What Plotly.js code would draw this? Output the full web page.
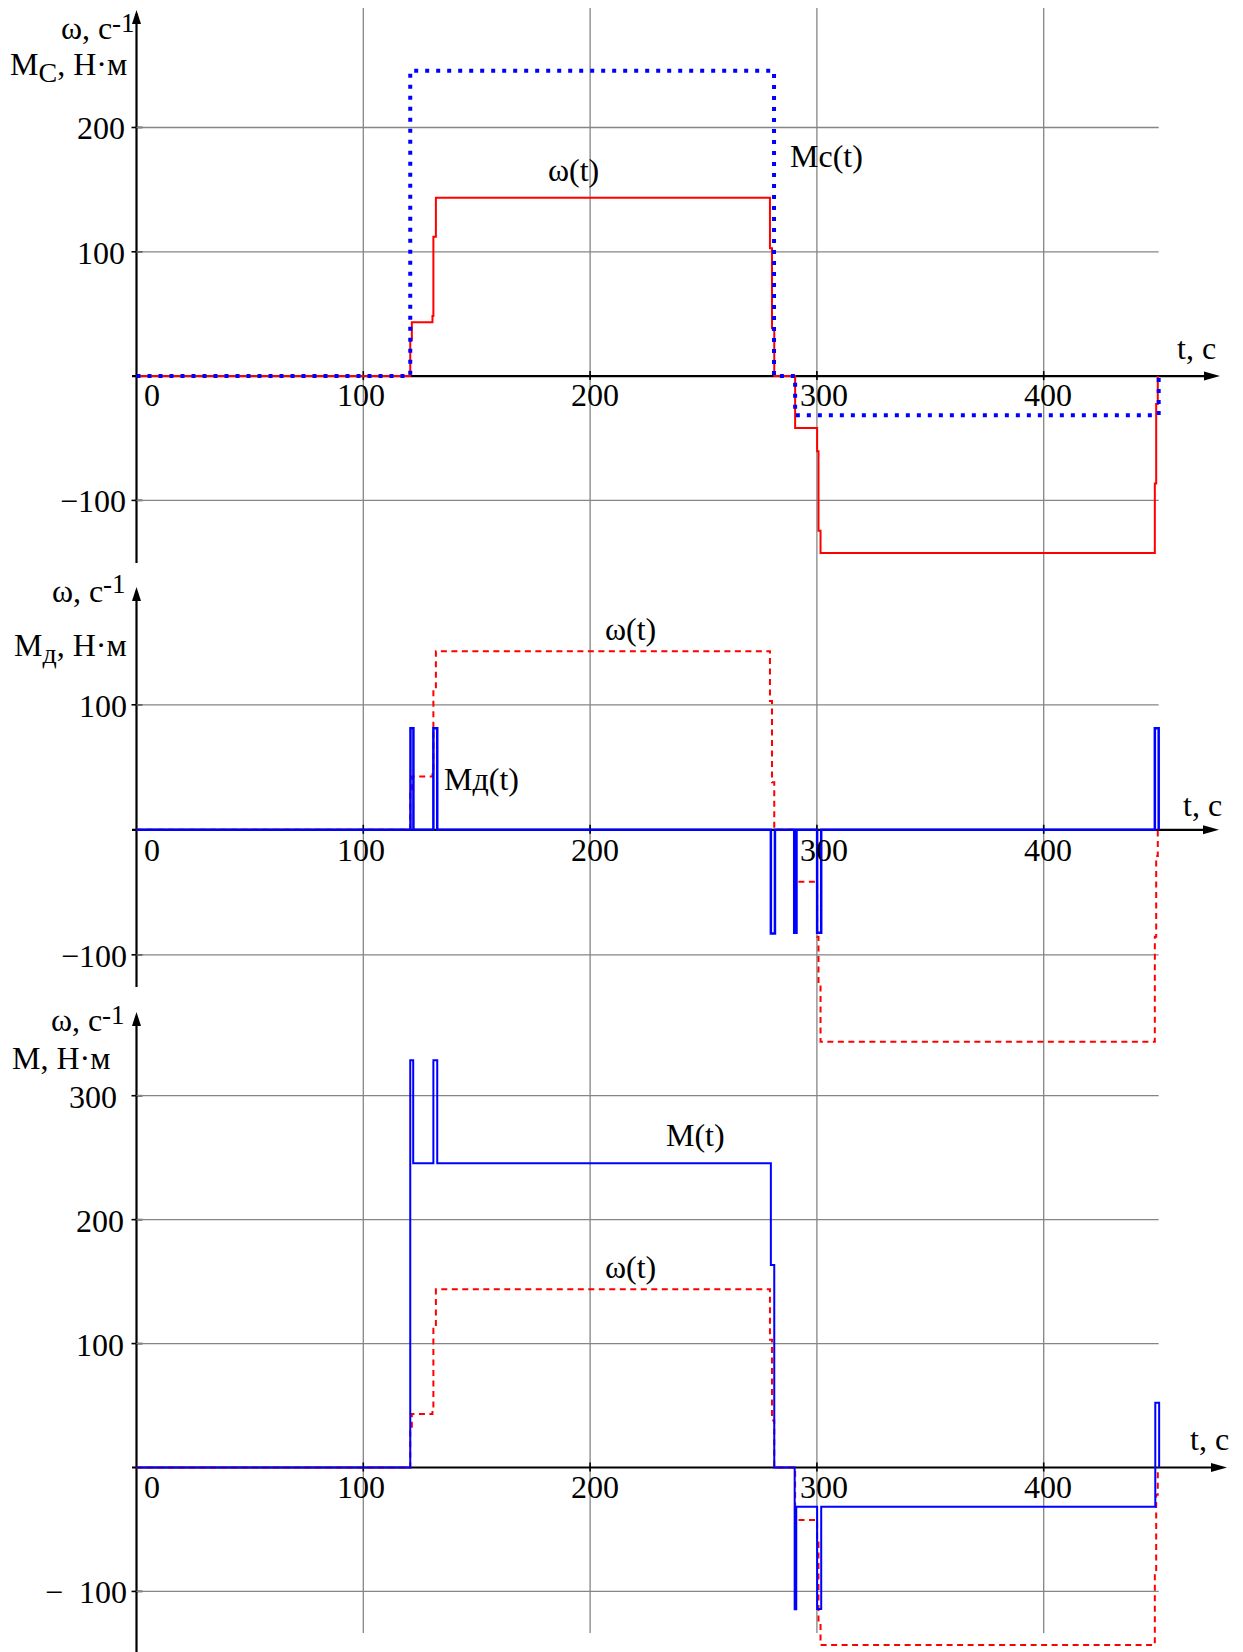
<!DOCTYPE html>
<html>
<head>
<meta charset="utf-8">
<script src="https://cdn.plot.ly/plotly-3.0.1.min.js"></script>
<style>
html,body{margin:0;padding:0;background:#ffffff;}
#chart{width:1243px;height:1652px;}
</style>
</head>
<body>
<div id="chart"></div>
<script>
// ---------------- data ----------------
// angular speed ω(t), step function breakpoints (t in seconds)
const tOmega = [0, 120.7, 121.4, 130.5, 130.9, 132.0, 279.3, 280.2, 281.2, 290.4, 300.1, 300.7, 301.6, 449.0, 449.6, 450.3];
const omegaTop = [0, 29, 43.3, 48.3, 112.1, 143.5, 102.8, 38.4, 0, -41.8, -60.5, -124.5, -142.3, -86.4, -22.4, 0];
const omegaMid = [0, 29, 42.6, 48, 112, 142.9, 103, 38, 0, -41.5, -85.5, -123.4, -169.5, -85.5, -21, 0];
const omegaBot = [0, 29, 43.2, 48, 112, 143.8, 103, 38, 0, -42.4, -60.5, -124.4, -143.2, -86, -22, 0];
// load torque Mc(t)
const tMc = [0, 120.7, 281.1, 290.4, 450.7];
const Mc  = [0, 245.6, 0, -31.4, 0];
// dynamic torque Mд(t)
const tMd = [0, 120.8, 122.1, 130.9, 132.6, 279.7, 281.5, 290.0, 291.0, 300.1, 301.9, 449.0, 450.7];
const Md  = [0, 81.3, 0, 81.3, 0, -83, 0, -82.3, 0, -82.3, 0, 81.3, 0];
// motor torque M(t)
const tM = [0, 120.7, 122.0, 130.9, 132.6, 279.7, 281.2, 290.2, 290.9, 300.1, 301.9, 449.2, 450.9];
const M  = [0, 328.6, 245.6, 328.6, 245.6, 163.4, 0, -114.4, -31.6, -114.2, -31.6, 52.3, 0];
// ticks
const xTickVals = [0, 100, 200, 300, 400];
const xTickText = ['0', '100', '200', '300', '400'];
const y1TickVals = [200, 100, -100];
const y1TickText = ['200', '100', '\u2212100'];
const y2TickVals = [100, -100];
const y2TickText = ['100', '\u2212100'];
const y3TickVals = [300, 200, 100, -100];
const y3TickText = ['300', '200', '100', '\u2212\u2002100'];
const gridEnd = 450.7;

// ---------------- geometry ----------------
const W = 1243, H = 1652;
const X0 = 136.5, XS = 2.268;           // pixel of t=0, pixels per second
const xr = [-X0 / XS, (W - X0) / XS];
const P = [
  {y0: 376.1,  s: 1.2431, top: 5,    bot: 566},
  {y0: 829.8,  s: 1.25,   top: 582,  bot: 1050},
  {y0: 1467.5, s: 1.2393, top: 1005, bot: 1652}
];
const px = v => v / W;
const py = v => 1 - v / H;
const yRange = p => [(p.y0 - p.bot) / p.s, (p.y0 - p.top) / p.s];
const yDom = p => [1 - p.bot / H, 1 - p.top / H];

const FONT = 'Liberation Serif';
const FS = 32;
const RED = '#ff0000', BLUE = '#0000ff';

function xAxis(i) {
  return {
    domain: [0, 1], range: xr, anchor: 'free', position: py(P[i].y0),
    showgrid: false, zeroline: false, showline: false, showticklabels: false,
    tickmode: 'array', tickvals: xTickVals, ticks: '', fixedrange: true
  };
}
function yAxis(i, vals) {
  return {
    domain: yDom(P[i]), range: yRange(P[i]), anchor: 'free', position: px(X0),
    showgrid: false, zeroline: false, showline: false, showticklabels: false,
    tickmode: 'array', tickvals: vals, ticks: '', fixedrange: true
  };
}

const traces = [
  {x: tOmega, y: omegaTop, xaxis: 'x', yaxis: 'y', mode: 'lines',
   line: {shape: 'hv', color: RED, width: 2}},
  {x: tMc, y: Mc, xaxis: 'x', yaxis: 'y', mode: 'lines',
   line: {shape: 'hv', color: BLUE, width: 4, dash: '4px,7px'}},
  {x: tOmega, y: omegaMid, xaxis: 'x2', yaxis: 'y2', mode: 'lines',
   line: {shape: 'hv', color: RED, width: 2, dash: '6px,4.5px'}},
  {x: tMd, y: Md, xaxis: 'x2', yaxis: 'y2', mode: 'lines',
   line: {shape: 'hv', color: BLUE, width: 2.5}},
  {x: tOmega, y: omegaBot, xaxis: 'x3', yaxis: 'y3', mode: 'lines',
   line: {shape: 'hv', color: RED, width: 2, dash: '6px,4.5px'}},
  {x: tM, y: M, xaxis: 'x3', yaxis: 'y3', mode: 'lines',
   line: {shape: 'hv', color: BLUE, width: 2}}
];

const shapes = [];
const annotations = [];
const GRID = {color: '#858585', width: 1.3};
const AX = {color: '#000', width: 2.2};
const TICK = {color: '#000', width: 1.6};

// vertical grid lines running through all three panels
xTickVals.filter(v => v !== 0).forEach(v => {
  shapes.push({type: 'line', xref: 'x', yref: 'paper', x0: v, x1: v,
    y0: py(8), y1: py(1633), line: GRID, layer: 'below'});
});

const panels = [
  {xa: 'x',  ya: 'y',  vals: y1TickVals, text: y1TickText, right: [125, 125, 126]},
  {xa: 'x2', ya: 'y2', vals: y2TickVals, text: y2TickText, right: [127, 127]},
  {xa: 'x3', ya: 'y3', vals: y3TickVals, text: y3TickText, right: [117, 124, 124, 126.5]}
];
const xLabelShift = [15.5, -2.3, 4.9, 6.6, 4.3];
const xLabelDrop = [18.5, 20.2, 19.8];
const yAxTop = [10, 587, 1012], yAxBot = [563, 987, 1652], xAxTip = [1220, 1219, 1227];

function txt(text, x, y, xanchor, size) {
  return {text: text, xref: 'paper', yref: 'paper', x: px(x), y: py(y),
    xanchor: xanchor || 'center', yanchor: 'middle', showarrow: false,
    font: {family: FONT, size: size || FS, color: '#000'}};
}

panels.forEach((p, i) => {
  const y0 = P[i].y0;
  // horizontal grid lines, y ticks and y tick labels
  p.vals.forEach((v, k) => {
    shapes.push({type: 'line', xref: p.xa, yref: p.ya, x0: 0, x1: gridEnd,
      y0: v, y1: v, line: GRID, layer: 'below'});
    shapes.push({type: 'line', xref: 'paper', yref: p.ya, x0: px(X0 - 5), x1: px(X0 + 6),
      y0: v, y1: v, line: TICK, layer: 'below'});
    annotations.push({text: p.text[k], xref: 'paper', yref: p.ya, x: px(p.right[k] + 2), y: v,
      xanchor: 'right', yanchor: 'middle', yshift: -1, showarrow: false,
      font: {family: FONT, size: FS, color: '#000'}});
  });
  // x ticks and x tick labels
  xTickVals.forEach((v, k) => {
    if (v !== 0) {
      shapes.push({type: 'line', xref: p.xa, yref: 'paper', x0: v, x1: v,
        y0: py(y0 - 5), y1: py(y0 + 4), line: TICK, layer: 'below'});
    }
    annotations.push({text: xTickText[k], xref: p.xa, yref: 'paper', x: v, y: py(y0 + xLabelDrop[i]),
      xanchor: 'center', yanchor: 'middle', xshift: xLabelShift[k], showarrow: false,
      font: {family: FONT, size: FS, color: '#000'}});
  });
  // y axis line + arrow
  shapes.push({type: 'line', xref: 'paper', yref: 'paper', x0: px(X0), x1: px(X0),
    y0: py(yAxTop[i] + 8), y1: py(yAxBot[i]), line: AX, layer: 'below'});
  shapes.push({type: 'path', xref: 'paper', yref: 'paper',
    path: `M ${px(X0)} ${py(yAxTop[i])} L ${px(X0 - 4.5)} ${py(yAxTop[i] + 14)} L ${px(X0 + 4.5)} ${py(yAxTop[i] + 14)} Z`,
    fillcolor: '#000', line: {width: 0}, layer: 'below'});
  // x axis line + arrow
  shapes.push({type: 'line', xref: 'paper', yref: 'paper', x0: px(132), x1: px(xAxTip[i] - 8),
    y0: py(y0), y1: py(y0), line: AX, layer: 'below'});
  shapes.push({type: 'path', xref: 'paper', yref: 'paper',
    path: `M ${px(xAxTip[i])} ${py(y0)} L ${px(xAxTip[i] - 16)} ${py(y0 - 4.5)} L ${px(xAxTip[i] - 16)} ${py(y0 + 4.5)} Z`,
    fillcolor: '#000', line: {width: 0}, layer: 'below'});
});

const SUB = s => '<sub><span style="font-size:28px">' + s + '</span></sub>';
annotations.push(
  // panel 1
  txt('\u03C9, \u0441', 113.7, 28.5, 'right'),
  txt('-1', 109.7, 23, 'left', 27),
  txt('M' + SUB('\u0421') + ', \u041D\u00B7\u043C', 129, 67.5, 'right'),
  txt('\u03C9(t)', 573, 170),
  txt('Mc(t)', 826, 156),
  txt('t, \u0441', 1196, 348),
  // panel 2
  txt('\u03C9, \u0441', 105, 591, 'right'),
  txt('-1', 101, 584, 'left', 27),
  txt('M' + SUB('\u0434') + ', \u041D\u00B7\u043C', 129, 648, 'right'),
  txt('\u03C9(t)', 630, 629),
  txt('M\u0434(t)', 481, 779),
  txt('t, \u0441', 1202, 805),
  // panel 3
  txt('\u03C9, \u0441', 103.7, 1019.5, 'right'),
  txt('-1', 99.7, 1014.5, 'left', 27),
  txt('M, \u041D\u00B7\u043C', 112, 1057.5, 'right'),
  txt('M(t)', 695, 1135),
  txt('\u03C9(t)', 630, 1267),
  txt('t, \u0441', 1209, 1439)
);

const layout = {
  width: W, height: H, autosize: false,
  margin: {l: 0, r: 0, t: 0, b: 0, pad: 0},
  paper_bgcolor: '#ffffff', plot_bgcolor: 'rgba(0,0,0,0)',
  showlegend: false,
  xaxis: xAxis(0), xaxis2: xAxis(1), xaxis3: xAxis(2),
  yaxis: yAxis(0, y1TickVals),
  yaxis2: yAxis(1, y2TickVals),
  yaxis3: yAxis(2, y3TickVals),
  shapes: shapes, annotations: annotations,
  font: {family: FONT, color: '#000', size: FS}
};

Plotly.newPlot('chart', traces, layout, {staticPlot: true, displayModeBar: false});
</script>
</body>
</html>
